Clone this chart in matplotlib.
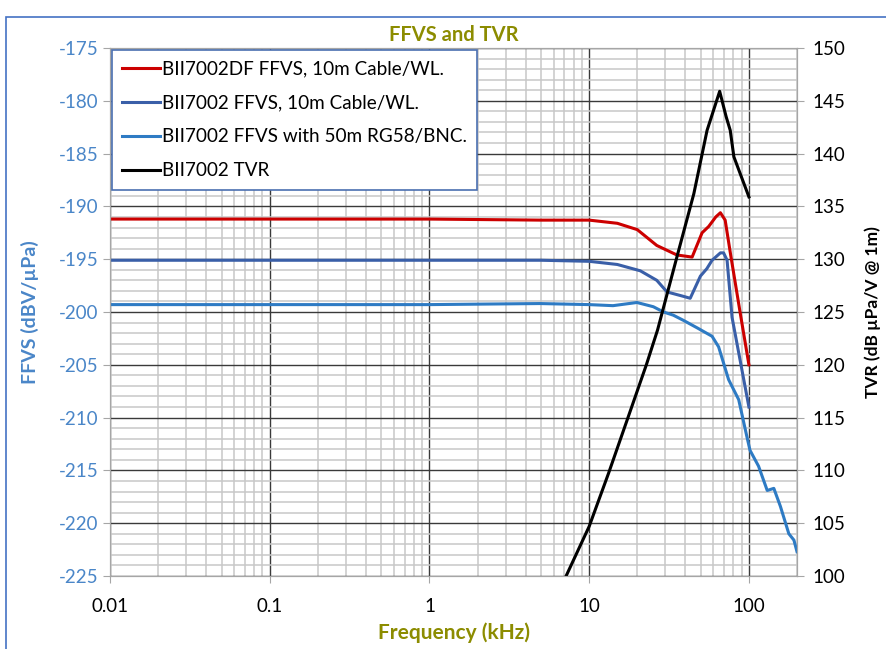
import numpy as np
import matplotlib.pyplot as plt
from matplotlib.ticker import FixedLocator, NullFormatter, LogLocator
from matplotlib.patches import Rectangle

plt.rcParams['font.family'] = ['Lato', 'DejaVu Sans']
plt.rcParams['axes.unicode_minus'] = False

# BII7002DF FFVS, 10m Cable/WL.
f_red = [0.01, 0.1, 1, 5, 10, 15, 20, 26.5, 35.4, 44.1, 50.9, 56, 62, 66.3, 71, 76.5, 88, 100]
v_red = [-191.2, -191.2, -191.2, -191.3, -191.3, -191.6, -192.2, -193.7, -194.6, -194.8,
         -192.5, -191.9, -191.0, -190.6, -191.3, -194.4, -200.0, -205.0]

# BII7002 FFVS, 10m Cable/WL.
f_dblue = [0.01, 0.1, 1, 5, 10, 15, 20.9, 26.5, 30.7, 38.5, 42.9, 49.7, 54.5, 58.8, 66.3, 69.4, 73, 78.4, 100]
v_dblue = [-195.1, -195.1, -195.1, -195.1, -195.2, -195.5, -196.1, -197.0, -198.1, -198.5, -198.7,
           -196.6, -195.9, -195.1, -194.4, -194.4, -195.1, -200.5, -209.0]

# BII7002 FFVS with 50m RG58/BNC.
f_lblue = [0.01, 0.1, 1, 4.9, 10, 14.1, 19.9, 25.2, 29.2, 33.6, 39.0, 47.4, 58.8, 64.6, 74.6, 86.3,
           97.1, 101.6, 114.9, 130.2, 143.2, 157.4, 177.8, 191.3, 200]
v_lblue = [-199.3, -199.3, -199.3, -199.2, -199.3, -199.4, -199.1, -199.5, -200.0, -200.3, -200.8,
           -201.5, -202.3, -203.3, -206.4, -208.3, -211.8, -213.1, -214.6, -216.9, -216.7, -218.4,
           -221.0, -221.6, -222.7]

# BII7002 TVR (right axis)
f_tvr = [7.17, 10, 13.2, 17.4, 22.8, 26.8, 35.4, 45.2, 54.7, 65.6, 72, 76.4, 80.5, 100]
v_tvr = [100, 104.7, 109.7, 114.9, 120.0, 123.3, 130.2, 136.2, 142.2, 145.9, 143.5, 142.2, 139.7, 135.9]

xticks = [0.01, 0.1, 1, 10, 100]
xticklabels = ['0.01', '0.1', '1', '10', '100']

fig = plt.figure(figsize=(8.86, 6.49), dpi=100)
ax = fig.add_axes([110/886, 1-576/649, 687/886, 528/649])
ax2 = ax.twinx()

fig.patches.append(Rectangle((6/886, -0.1), 1.2, 1-17/649+0.1, transform=fig.transFigure,
                             fill=False, edgecolor='#4472c4', lw=1.2))

ax.set_xscale('log')
ax.set_xlim(0.01, 200)
ax.set_ylim(-225, -175)
ax2.set_ylim(100, 150)

ax.xaxis.set_major_locator(FixedLocator(xticks))
ax.set_xticklabels(xticklabels)
ax.xaxis.set_minor_locator(LogLocator(base=10, subs=np.arange(2, 10)))
ax.xaxis.set_minor_formatter(NullFormatter())
ax.set_yticks(np.arange(-225, -174, 5))
ax.set_yticks(np.arange(-225, -174, 1), minor=True)
ax2.set_yticks(np.arange(100, 151, 5))

ax.grid(which='minor', color='#c8c8c8', lw=1.1)
ax.grid(which='major', color='#3a3a3a', lw=1.0)
ax.set_axisbelow(True)

l1, = ax.plot(f_red, v_red, color='#cc0000', lw=2.2, label='BII7002DF FFVS, 10m Cable/WL.')
l2, = ax.plot(f_dblue, v_dblue, color='#3a5fa8', lw=2.2, label='BII7002 FFVS, 10m Cable/WL.')
l3, = ax.plot(f_lblue, v_lblue, color='#2e7bc4', lw=2.2, label='BII7002 FFVS with 50m RG58/BNC.')
l4, = ax2.plot(f_tvr, v_tvr, color='black', lw=2.2, label='BII7002 TVR')

for a in (ax, ax2):
    for s in a.spines.values():
        s.set_color('#a6a6a6')
ax.tick_params(axis='y', which='minor', length=0)
ax.tick_params(axis='y', which='major', colors='#a6a6a6', labelcolor='#4a86c8', labelsize=13.5, length=5)
ax.tick_params(axis='x', which='minor', length=0)
ax.tick_params(axis='x', which='major', colors='#a6a6a6', labelcolor='black', labelsize=13.5, length=5, pad=11)
ax2.tick_params(axis='y', colors='#a6a6a6', labelcolor='black', labelsize=13.5, length=5, pad=6)

ax.set_title('FFVS and TVR', color='#8c8c00', fontweight='bold', fontsize=14.5, pad=5)
ax.set_xlabel('Frequency (kHz)', color='#8c8c00', fontweight='bold', fontsize=15, labelpad=5)
ax.set_ylabel('FFVS (dBV/\u00b5Pa)', color='#4a86c8', fontweight='bold', fontsize=14, labelpad=14)
ax2.set_ylabel('TVR (dB \u00b5Pa/V @ 1m)', color='black', fontweight='bold', fontsize=12.5, labelpad=14)

leg = ax2.legend(handles=[l1, l2, l3, l4], loc='upper left', bbox_to_anchor=(0, 1),
                 borderaxespad=0.1, fontsize=13.6, fancybox=False, framealpha=1,
                 edgecolor='#4a6fb0', handlelength=2.0, handletextpad=0.1,
                 labelspacing=0.9, borderpad=0.55)
leg.get_frame().set_linewidth(1.2)

fig.savefig('out.png', dpi=100)
